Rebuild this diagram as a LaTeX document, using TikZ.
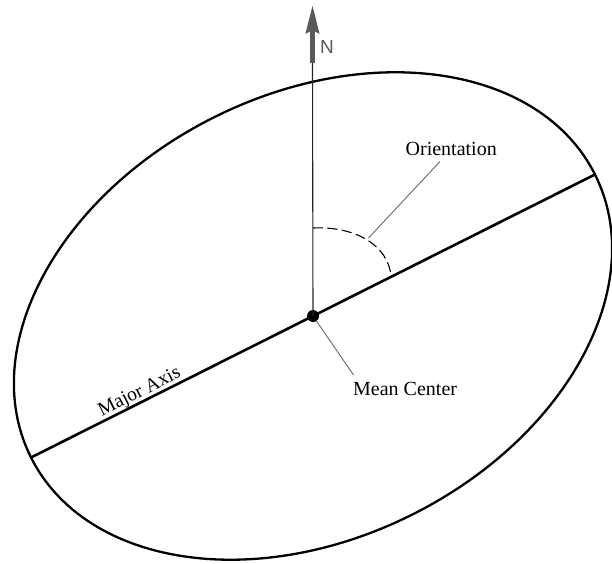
\documentclass[tikz,border=0pt]{standalone}
\usepackage{fontspec}
\setmainfont{Liberation Serif}
\newfontfamily\nfont{Liberation Sans}
\usetikzlibrary{arrows.meta}
\begin{document}
\begin{tikzpicture}[x=1pt,y=1pt,
  outline/.style={line width=2.3pt},
  axisline/.style={line width=2.6pt},
  leader/.style={draw=black!60,line width=0.9pt},
  lbl/.style={inner sep=0pt,font=\fontsize{20}{24}\selectfont},
  northline/.style={draw=black!85,line width=1.1pt}]
\useasboundingbox (0,0) rectangle (612,563);
% ellipse
\draw[outline,rotate around={26.65:(313,247)}] (313,247) ellipse[x radius=315.5, y radius=222];
% major axis
\coordinate (L) at (31,105.5);
\coordinate (R) at (595,388.5);
\draw[axisline] (L) -- (R);
% north arrow
\coordinate (nb) at (312.5,500);
\coordinate (nt) at (312.5,558);
\node[circle,fill=black,inner sep=0pt,minimum size=12pt] (c) at (313,247) {};
\draw[northline] (c.center) -- (nb);
\draw[line width=5pt,draw=black!65,-{Stealth[length=28pt,width=13pt,inset=3pt,fill=black!65]}] (nb) -- (nt);
\node[inner sep=0pt,anchor=base west,text=black!65,font=\nfont\fontsize{19}{22}\selectfont] (N) at (320,509.5) {N};
% orientation arc
\coordinate (a0) at (313,335);
\coordinate (a1) at (391,287.5);
\draw[line width=1.1pt,dash pattern=on 10pt off 4.5pt] (a0) .. controls (358,337) and (388,316) .. (a1);
\coordinate (ap) at (368.5,325);
\node[lbl,anchor=base west] (or) at (405.5,407) {Orientation};
\coordinate (oe) at (440,401.5);
\draw[leader] (ap) -- (oe);
% mean center
\node[lbl,anchor=base west] (mc) at (353,168) {Mean Center};
\coordinate (me) at (353.5,188);
\draw[leader] (c) -- (me);
% major axis label
\node[lbl,anchor=base west,rotate=26.65,font=\fontsize{19.5}{23}\selectfont] (ma) at (101.7,146.3) {Major Axis};
\end{tikzpicture}
\end{document}
